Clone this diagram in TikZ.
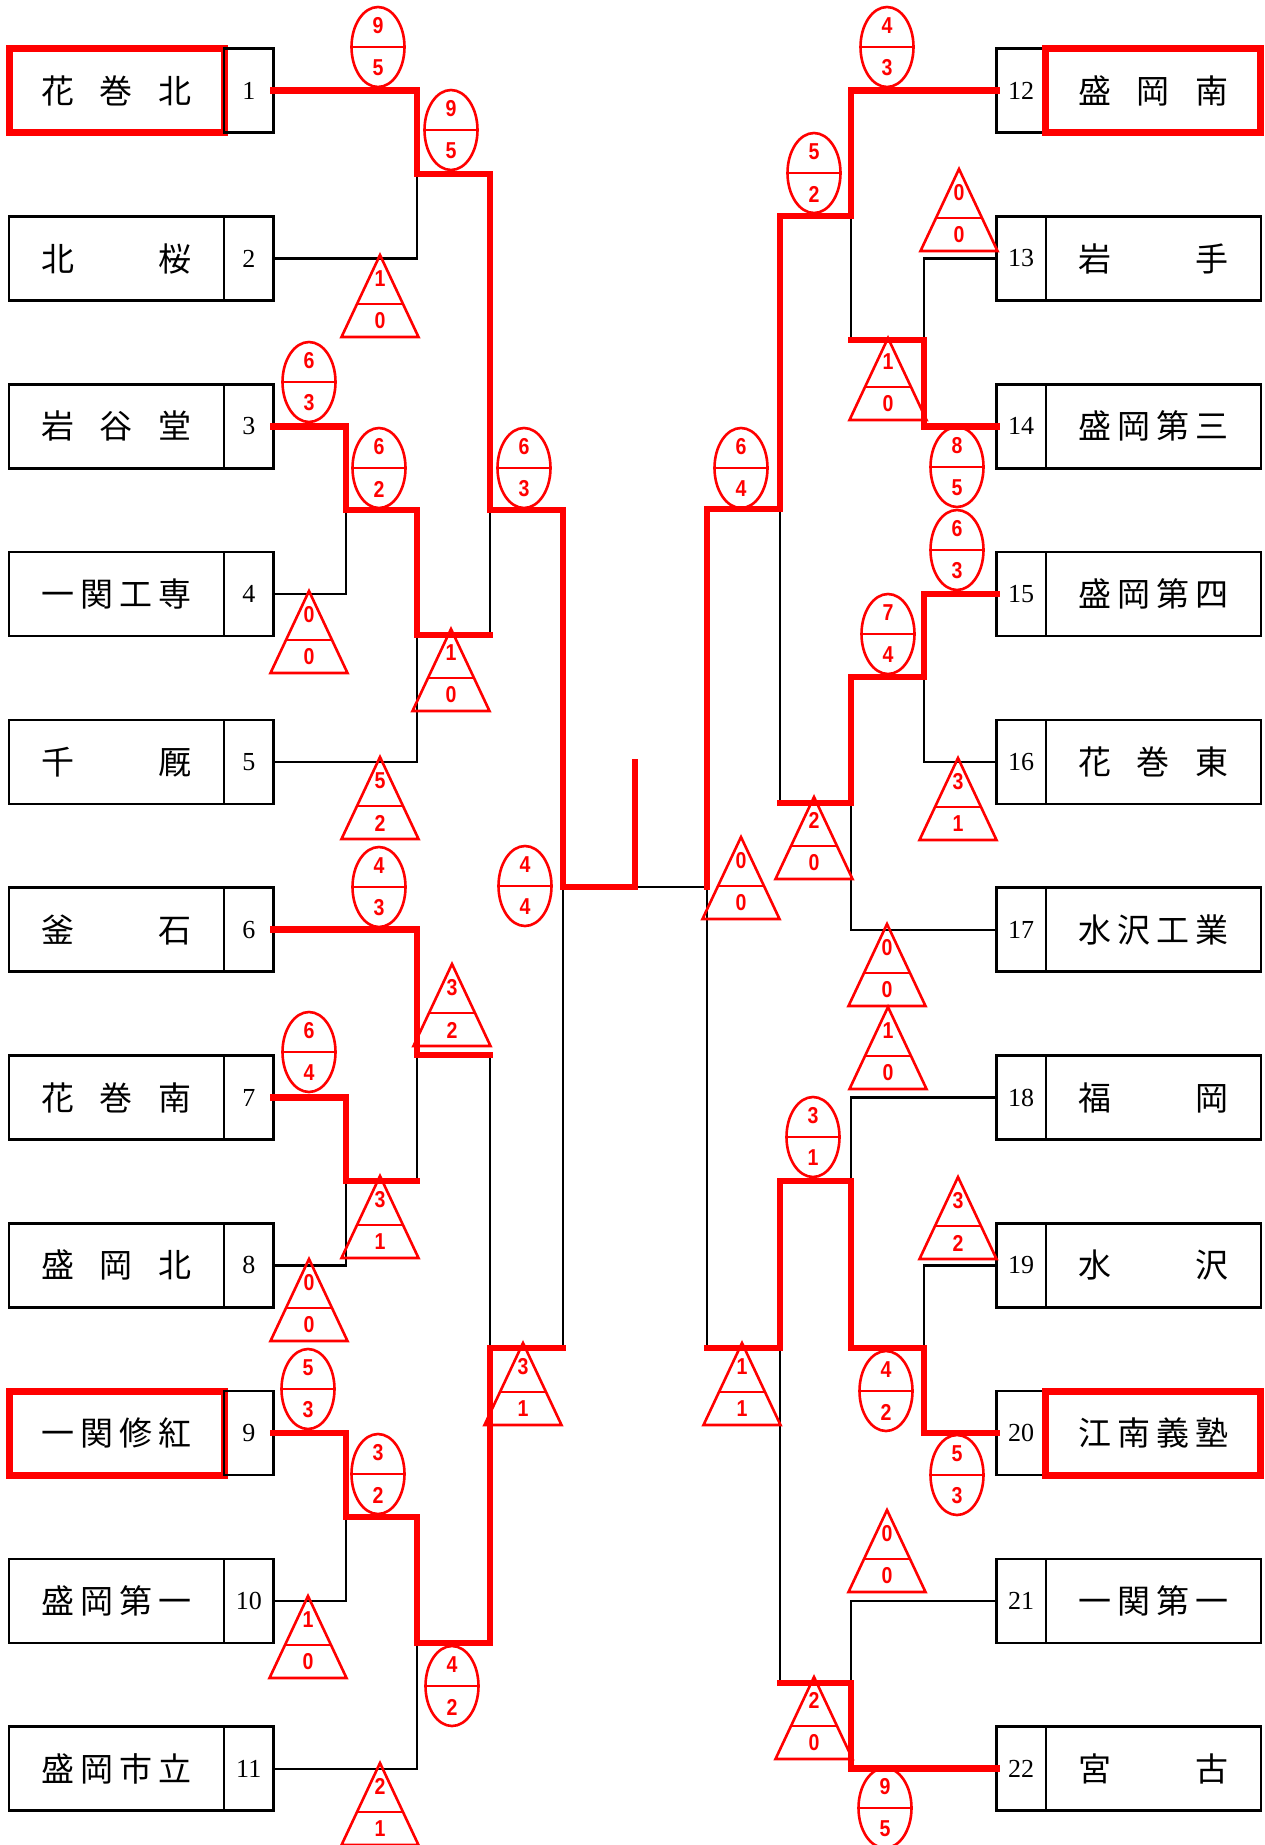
\documentclass[tikz,border=0pt]{standalone}
\usepackage{fontspec}
\newfontfamily\jpfont{Noto Sans CJK JP}
\newfontfamily\numfont{Liberation Serif}
\newfontfamily\scorefont[FakeStretch=0.85]{Liberation Sans}
\usetikzlibrary{positioning}

\begin{document}
\begin{tikzpicture}[x=1pt,y=-1pt,node distance=83.8pt,line join=miter]
\tikzstyle{school}=[rectangle,draw=black,line width=2.5pt,minimum width=215pt,minimum height=84pt,inner sep=0pt,outer sep=0pt,font=\jpfont\fontsize{33}{33}\selectfont]
\tikzstyle{seeded}=[school,draw=red,line width=7pt]
\tikzstyle{numbox}=[rectangle,draw=black,line width=2.5pt,minimum width=49.5pt,minimum height=84pt,inner sep=0pt,outer sep=0pt,font=\numfont\fontsize{26}{26}\selectfont]
\tikzstyle{lostline}=[draw=black,line width=2.4pt]
\tikzstyle{wonline}=[draw=red,line width=6.5pt,line cap=rect]
\tikzstyle{badge}=[draw=red,line width=2.6pt]
\tikzstyle{scorenum}=[text=red,inner sep=0pt,font=\scorefont\bfseries\fontsize{23}{23}\selectfont]
\tikzset{
  pics/oval/.style 2 args={code={
    \draw[badge] (0,0) ellipse [x radius=26.5pt,y radius=40pt];
    \draw[badge] (-26.5,0) -- (26.5,0);
    \node[scorenum] (-up) at (0,-21) {#1};
    \node[scorenum] (-dn) at (0,21) {#2};
  }},
  pics/tri/.style 2 args={code={
    \draw[badge] (-38.5,82) -- (0,0) -- (38.5,82) -- cycle;
    \draw[badge] (-23,49) -- (23,49);
    \node[scorenum] (-up) at (0,23.5) {#1};
    \node[scorenum] (-dn) at (0,66) {#2};
  }}
}

\useasboundingbox (0,0) rectangle (1265,1845);

% left block
\node[seeded] (team1) at (116.5,90.7) {\makebox[150pt]{花\hfill 巻\hfill 北}};
\node[school] (team2) [below=of team1] {\makebox[150pt]{北\hfill 桜}};
\node[school] (team3) [below=of team2] {\makebox[150pt]{岩\hfill 谷\hfill 堂}};
\node[school] (team4) [below=of team3] {\makebox[150pt]{一\hfill 関\hfill 工\hfill 専}};
\node[school] (team5) [below=of team4] {\makebox[150pt]{千\hfill 厩}};
\node[school] (team6) [below=of team5] {\makebox[150pt]{釜\hfill 石}};
\node[school] (team7) [below=of team6] {\makebox[150pt]{花\hfill 巻\hfill 南}};
\node[school] (team8) [below=of team7] {\makebox[150pt]{盛\hfill 岡\hfill 北}};
\node[seeded] (team9) [below=of team8] {\makebox[150pt]{一\hfill 関\hfill 修\hfill 紅}};
\node[school] (team10) [below=of team9] {\makebox[150pt]{盛\hfill 岡\hfill 第\hfill 一}};
\node[school] (team11) [below=of team10] {\makebox[150pt]{盛\hfill 岡\hfill 市\hfill 立}};

\node[numbox] (num1) [right=0pt of team1] {1};
\node[numbox] (num2) [right=0pt of team2] {2};
\node[numbox] (num3) [right=0pt of team3] {3};
\node[numbox] (num4) [right=0pt of team4] {4};
\node[numbox] (num5) [right=0pt of team5] {5};
\node[numbox] (num6) [right=0pt of team6] {6};
\node[numbox] (num7) [right=0pt of team7] {7};
\node[numbox] (num8) [right=0pt of team8] {8};
\node[numbox] (num9) [right=0pt of team9] {9};
\node[numbox] (num10) [right=0pt of team10] {10};
\node[numbox] (num11) [right=0pt of team11] {11};

% right block
\node[numbox] (num12) at (1021,90.7) {12};
\node[numbox] (num13) [below=of num12] {13};
\node[numbox] (num14) [below=of num13] {14};
\node[numbox] (num15) [below=of num14] {15};
\node[numbox] (num16) [below=of num15] {16};
\node[numbox] (num17) [below=of num16] {17};
\node[numbox] (num18) [below=of num17] {18};
\node[numbox] (num19) [below=of num18] {19};
\node[numbox] (num20) [below=of num19] {20};
\node[numbox] (num21) [below=of num20] {21};
\node[numbox] (num22) [below=of num21] {22};

\node[seeded] (team12) [right=0pt of num12] {\makebox[150pt]{盛\hfill 岡\hfill 南}};
\node[school] (team13) [right=0pt of num13] {\makebox[150pt]{岩\hfill 手}};
\node[school] (team14) [right=0pt of num14] {\makebox[150pt]{盛\hfill 岡\hfill 第\hfill 三}};
\node[school] (team15) [right=0pt of num15] {\makebox[150pt]{盛\hfill 岡\hfill 第\hfill 四}};
\node[school] (team16) [right=0pt of num16] {\makebox[150pt]{花\hfill 巻\hfill 東}};
\node[school] (team17) [right=0pt of num17] {\makebox[150pt]{水\hfill 沢\hfill 工\hfill 業}};
\node[school] (team18) [right=0pt of num18] {\makebox[150pt]{福\hfill 岡}};
\node[school] (team19) [right=0pt of num19] {\makebox[150pt]{水\hfill 沢}};
\node[seeded] (team20) [right=0pt of num20] {\makebox[150pt]{江\hfill 南\hfill 義\hfill 塾}};
\node[school] (team21) [right=0pt of num21] {\makebox[150pt]{一\hfill 関\hfill 第\hfill 一}};
\node[school] (team22) [right=0pt of num22] {\makebox[150pt]{宮\hfill 古}};

% match points
\coordinate (m1) at (417,174);
\coordinate (m2) at (346,510);
\coordinate (m3) at (417,635);
\coordinate (m4) at (490,510);
\coordinate (m5) at (346,1181);
\coordinate (m6) at (417,1055);
\coordinate (m7) at (346,1517);
\coordinate (m8) at (417,1643);
\coordinate (m9) at (490,1348);
\coordinate (m10) at (563,887);
\coordinate (m11) at (924,340);
\coordinate (m12) at (851,216);
\coordinate (m13) at (924,677);
\coordinate (m14) at (851,803);
\coordinate (m15) at (780,509);
\coordinate (m16) at (924,1348);
\coordinate (m17) at (851,1181);
\coordinate (m18) at (851,1683);
\coordinate (m19) at (780,1348);
\coordinate (m20) at (707,887);
\coordinate (final) at (635,887);
\coordinate (champ) at (635,762);

% losers
\draw[lostline] (num2.east) -| (m1);
\draw[lostline] (num4.east) -| (m2);
\draw[lostline] (num5.east) -| (m3);
\draw[lostline] (m3 -| m4) -- (m4);
\draw[lostline] (num8.east) -| (m5);
\draw[lostline] (m5 -| m6) -- (m6);
\draw[lostline] (num10.east) -| (m7);
\draw[lostline] (num11.east) -| (m8);
\draw[lostline] (m6 -| m9) -- (m9);
\draw[lostline] (m9 -| m10) -- (m10);
\draw[lostline] (num13.west) -| (m11);
\draw[lostline] (m11 -| m12) -- (m12);
\draw[lostline] (num16.west) -| (m13);
\draw[lostline] (num17.west) -| (m14);
\draw[lostline] (m14 -| m15) -- (m15);
\draw[lostline] (num19.west) -| (m16);
\draw[lostline] (num18.west) -| (m17);
\draw[lostline] (num21.west) -| (m18);
\draw[lostline] (m18 -| m19) -- (m19);
\draw[lostline] (m19 -| m20) -- (m20);
\draw[lostline] (m20) -- (final);

% winners
\draw[wonline] (num1.east) -| (m1) -| (m4) -| (m10) -- (final) -- (champ);
\draw[wonline] (num3.east) -| (m2) -| (m3) -- (m3 -| m4);
\draw[wonline] (num6.east) -| (m6) -- (m6 -| m9);
\draw[wonline] (num7.east) -| (m5) -- (m5 -| m6);
\draw[wonline] (num9.east) -| (m7) -| (m8) -| (m9) -- (m9 -| m10);
\draw[wonline] (num12.west) -| (m12) -| (m15) -| (m20);
\draw[wonline] (num14.west) -| (m11) -- (m11 -| m12);
\draw[wonline] (num15.west) -| (m13) -| (m14) -- (m14 -| m15);
\draw[wonline] (num20.west) -| (m16) -| (m17) -| (m19) -- (m19 -| m20);
\draw[wonline] (num22.west) -| (m18) -- (m18 -| m19);

% scores
\pic (o1) at (378,47) {oval={9}{5}};
\pic (o2) at (451,130) {oval={9}{5}};
\pic (o3) at (309,382) {oval={6}{3}};
\pic (o4) at (379,468) {oval={6}{2}};
\pic (o5) at (524,468) {oval={6}{3}};
\pic (o6) at (379,887) {oval={4}{3}};
\pic (o7) at (525,886) {oval={4}{4}};
\pic (o8) at (309,1052) {oval={6}{4}};
\pic (o9) at (308,1389) {oval={5}{3}};
\pic (o10) at (378,1474) {oval={3}{2}};
\pic (o11) at (452,1686) {oval={4}{2}};
\pic (o12) at (887,47) {oval={4}{3}};
\pic (o13) at (814,173) {oval={5}{2}};
\pic (o14) at (957,467) {oval={8}{5}};
\pic (o15) at (741,468) {oval={6}{4}};
\pic (o16) at (957,550) {oval={6}{3}};
\pic (o17) at (888,634) {oval={7}{4}};
\pic (o18) at (813,1137) {oval={3}{1}};
\pic (o19) at (886,1391) {oval={4}{2}};
\pic (o20) at (957,1475) {oval={5}{3}};
\pic (o21) at (885,1808) {oval={9}{5}};

\pic (t1) at (380,255) {tri={1}{0}};
\pic (t2) at (309,591) {tri={0}{0}};
\pic (t3) at (451,629) {tri={1}{0}};
\pic (t4) at (380,757) {tri={5}{2}};
\pic (t5) at (452,964) {tri={3}{2}};
\pic (t6) at (380,1176) {tri={3}{1}};
\pic (t7) at (309,1259) {tri={0}{0}};
\pic (t8) at (523,1343) {tri={3}{1}};
\pic (t9) at (308,1596) {tri={1}{0}};
\pic (t10) at (380,1763) {tri={2}{1}};
\pic (t11) at (959,169) {tri={0}{0}};
\pic (t12) at (888,338) {tri={1}{0}};
\pic (t13) at (958,758) {tri={3}{1}};
\pic (t14) at (814,797) {tri={2}{0}};
\pic (t15) at (741,837) {tri={0}{0}};
\pic (t16) at (887,924) {tri={0}{0}};
\pic (t17) at (888,1007) {tri={1}{0}};
\pic (t18) at (958,1177) {tri={3}{2}};
\pic (t19) at (742,1343) {tri={1}{1}};
\pic (t20) at (887,1510) {tri={0}{0}};
\pic (t21) at (814,1677) {tri={2}{0}};
\end{tikzpicture}
\end{document}
